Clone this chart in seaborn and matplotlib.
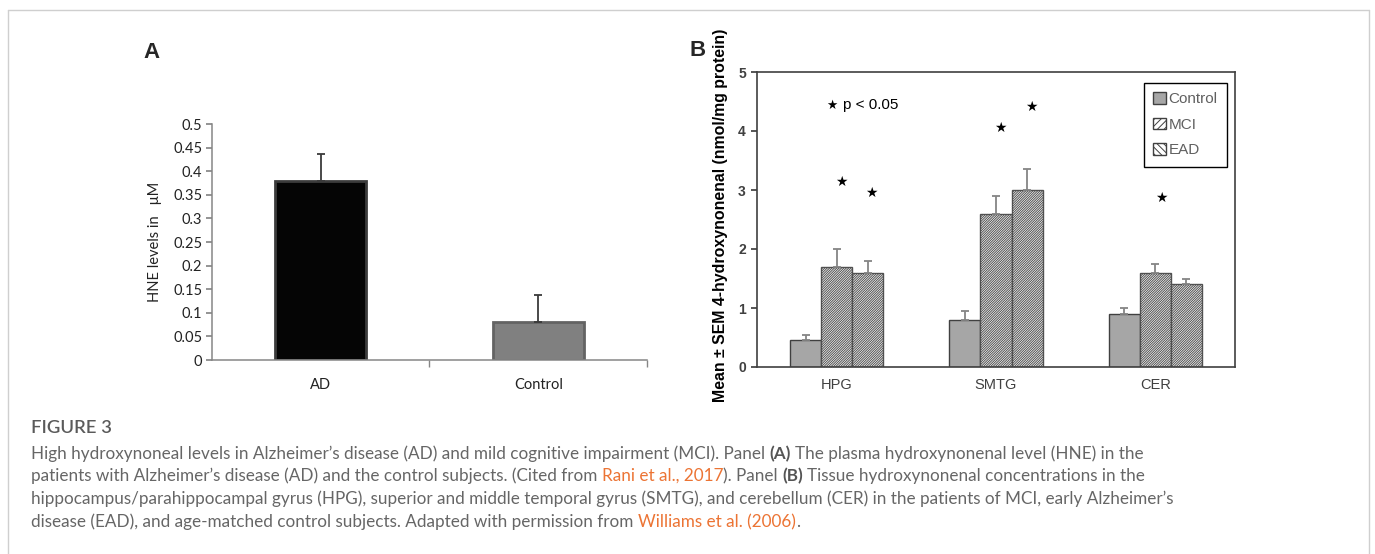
import numpy as np
import pandas as pd
import matplotlib
matplotlib.use('Agg')
import matplotlib.pyplot as plt
import seaborn as sns
from matplotlib.patches import Patch
from matplotlib.lines import Line2D

sns.set_theme(style='ticks')
plt.rcParams['hatch.linewidth'] = 0.7

# Panel A: plasma HNE
a_groups = ['AD', 'Control']
a_means = [0.38, 0.08]
a_err = [0.056, 0.057]
a_fill = ['#050505', '#808080']
a_edge = ['#3c3c3c', '#636363']
a_ticks = [0, 0.05, 0.1, 0.15, 0.2, 0.25, 0.3, 0.35, 0.4, 0.45, 0.5]

# Panel B: tissue HNE
b_regions = ['HPG', 'SMTG', 'CER']
b_groups = ['Control', 'MCI', 'EAD']
b_control = [0.45, 0.80, 0.90]
b_mci = [1.70, 2.60, 1.60]
b_ead = [1.60, 3.00, 1.40]
b_control_err = [0.10, 0.15, 0.10]
b_mci_err = [0.30, 0.30, 0.15]
b_ead_err = [0.20, 0.35, 0.10]
b_ticks = [0, 1, 2, 3, 4, 5]
# significance stars (x in category units, y in data units)
star_x = [0.03, 0.22, 1.03, 1.22, 2.04]
star_y = [3.13, 2.95, 4.06, 4.41, 2.87]

W, H = 1375, 554
fig = plt.figure(figsize=(W / 100, H / 100), dpi=100)

# ---------- panel A ----------
axA = fig.add_axes([212 / W, 1 - 360 / H, 435 / W, 236 / H])
sns.barplot(x=a_groups, y=a_means, hue=a_groups, palette=a_fill, width=0.42,
            errorbar=None, legend=False, linewidth=2, ax=axA)
for bar, ec, e in zip(axA.patches, a_edge, a_err):
    bar.set_edgecolor(ec)
    cx = bar.get_x() + bar.get_width() / 2
    axA.errorbar(cx, bar.get_height(), yerr=[[0], [e]], color='#3a3a3a',
                 lw=1.3, capsize=3, capthick=1.3, zorder=1)
axA.set_xlim(-0.5, 1.5)
axA.set_ylim(0, 0.5)
axA.set_yticks(a_ticks)
axA.set_yticklabels([f'{v:g}' for v in a_ticks], fontsize=10.5,
                    family=['Lato', 'DejaVu Sans'], color='#222222')
axA.set_xticks([0, 1])
axA.set_xticklabels(a_groups, fontsize=10.5, family=['Lato', 'DejaVu Sans'],
                    color='#222222')
axA.set_xticks([0.5, 1.5], minor=True)
axA.tick_params(axis='x', which='major', length=0, pad=13)
axA.tick_params(axis='x', which='minor', length=5, direction='out',
                color='#868686')
axA.tick_params(axis='y', length=4, direction='out', color='#868686', pad=3)
for s in ['top', 'right']:
    axA.spines[s].set_visible(False)
for s in ['left', 'bottom']:
    axA.spines[s].set_color('#868686')
    axA.spines[s].set_linewidth(1.1)
axA.set_xlabel('')
axA.set_ylabel('HNE levels in   μM', fontsize=10.5,
               family=['Lato', 'DejaVu Sans'], color='#222222', labelpad=8)

# ---------- panel B ----------
df_b = pd.DataFrame({
    'region': b_regions * 3,
    'group': np.repeat(b_groups, 3),
    'value': b_control + b_mci + b_ead,
})
axB = fig.add_axes([757 / W, 1 - 367 / H, 478 / W, 295 / H])
sns.barplot(data=df_b, x='region', y='value', hue='group', hue_order=b_groups,
            palette={'Control': '#a6a6a6', 'MCI': 'white', 'EAD': 'white'},
            width=0.585, gap=0, errorbar=None, legend=False,
            edgecolor='#404040', linewidth=1.0, ax=axB)
hatches = ['', '/' * 14, '/' * 14]
errs = [b_control_err, b_mci_err, b_ead_err]
for cont, hatch, err in zip(axB.containers, hatches, errs):
    for bar, e in zip(cont, err):
        if hatch:
            bar.set_hatch(hatch)
            bar.set_edgecolor('#505050')
            if hasattr(bar, 'set_hatchcolor'):
                bar.set_hatchcolor('#7a7a7a')
        cx = bar.get_x() + bar.get_width() / 2
        axB.errorbar(cx, bar.get_height(), yerr=[[0], [e]], color='#858585',
                     lw=1.3, capsize=3, capthick=1.3, zorder=1)
axB.set_xlim(-0.5, 2.5)
axB.set_ylim(0, 5)
axB.set_yticks(b_ticks)
axB.set_yticklabels([str(v) for v in b_ticks], fontsize=10,
                    family='Liberation Sans', weight='bold', color='#404040')
axB.set_xticks(range(3))
axB.set_xticklabels(b_regions, fontsize=10.5, family='Liberation Sans',
                    color='#404040')
axB.tick_params(axis='x', length=0, pad=8)
axB.tick_params(axis='y', length=4, direction='out', color='#404040', pad=4)
for s in axB.spines.values():
    s.set_color('#404040')
    s.set_linewidth(1.2)
axB.set_xlabel('')
axB.set_ylabel('Mean ± SEM 4-hydroxynonenal (nmol/mg protein)', fontsize=11.4,
               family=['Liberation Sans', 'DejaVu Sans'], weight='bold',
               color='black')
axB.yaxis.set_label_coords(-0.061, 0.515)

for sx, sy in zip(star_x, star_y):
    axB.text(sx, sy, '★', ha='center', va='center', fontsize=10,
             family='DejaVu Sans', color='black')
axB.text(-0.03, 4.44, '★', ha='center', va='center', fontsize=9,
         family='DejaVu Sans', color='black')
axB.text(0.04, 4.44, 'p < 0.05', ha='left', va='center', fontsize=11,
         family='Liberation Sans', color='black')

handles = [Patch(facecolor='#a6a6a6', edgecolor='#404040', label='Control'),
           Patch(facecolor='white', edgecolor='#404040', hatch='/////', label='MCI'),
           Patch(facecolor='white', edgecolor='#404040', hatch='\\\\\\\\\\', label='EAD')]
leg = axB.legend(handles=handles, loc='upper right',
                 bbox_to_anchor=(0.983, 0.963), borderaxespad=0,
                 fancybox=False, edgecolor='black', framealpha=1,
                 handlelength=0.8, handleheight=0.8, handletextpad=0.2,
                 labelspacing=0.75, borderpad=0.6,
                 prop={'family': 'Liberation Sans', 'size': 11})
leg.get_frame().set_linewidth(1.0)
for t in leg.get_texts():
    t.set_color('#606060')

# ---------- panel letters ----------
fig.text(152 / W, 1 - 53 / H, 'A', fontsize=16, weight='bold',
         family='Liberation Sans', ha='center', va='center')
fig.text(698 / W, 1 - 51 / H, 'B', fontsize=16, weight='bold',
         family='Liberation Sans', ha='center', va='center')

# ---------- page frame ----------
fc = '#cfcfcf'
fig.add_artist(Line2D([8 / W, 8 / W], [0, 1 - 10 / H], color=fc, lw=1))
fig.add_artist(Line2D([8 / W, 1369 / W], [1 - 10 / H, 1 - 10 / H], color=fc, lw=1))
fig.add_artist(Line2D([1369 / W, 1369 / W], [0, 1 - 10 / H], color=fc, lw=1))

# ---------- caption ----------
renderer = fig.canvas.get_renderer()
cap_color = '#666666'
orange = '#ec7434'
cap_font = 'Lato'


def text_width(s, size, weight='normal'):
    t = fig.text(0, 0, s, fontsize=size, family=cap_font, weight=weight)
    w = t.get_window_extent(renderer=renderer).width
    t.remove()
    return w


line3 = ('hippocampus/parahippocampal gyrus (HPG), superior and middle temporal '
         'gyrus (SMTG), and cerebellum (CER) in the patients of MCI, early Alzheimer’s')
cap_size = 11.5 * 1143 / text_width(line3, 11.5)
space_w = text_width('a a', cap_size) - text_width('aa', cap_size)


def caption_line(y, parts):
    x = 31
    for txt, color, weight in parts:
        lead = len(txt) - len(txt.lstrip(' '))
        trail = len(txt) - len(txt.rstrip(' '))
        core = txt.strip(' ')
        x += lead * space_w
        t = fig.text(x / W, 1 - y / H, core, fontsize=cap_size, family=cap_font,
                     weight=weight, color=color, va='center', ha='left')
        x += t.get_window_extent(renderer=renderer).width + trail * space_w


fig.text(31 / W, 1 - 428 / H, 'FIGURE 3', fontsize=cap_size * 1.08,
         family=cap_font, weight='semibold', color='#5a5a5a', va='center')
caption_line(454, [
    ('High hydroxynoneal levels in Alzheimer’s disease (AD) and mild cognitive '
     'impairment (MCI). Panel ', cap_color, 'normal'),
    ('(A)', '#555555', 'bold'),
    (' The plasma hydroxynonenal level (HNE) in the', cap_color, 'normal')])
caption_line(476, [
    ('patients with Alzheimer’s disease (AD) and the control subjects. (Cited from ',
     cap_color, 'normal'),
    ('Rani et al., 2017', orange, 'normal'),
    ('). Panel ', cap_color, 'normal'),
    ('(B)', '#555555', 'bold'),
    (' Tissue hydroxynonenal concentrations in the', cap_color, 'normal')])
caption_line(499, [(line3, cap_color, 'normal')])
caption_line(522, [
    ('disease (EAD), and age-matched control subjects. Adapted with permission from ',
     cap_color, 'normal'),
    ('Williams et al. (2006)', orange, 'normal'),
    ('.', cap_color, 'normal')])

fig.savefig('out.png', dpi=100, facecolor='white')
